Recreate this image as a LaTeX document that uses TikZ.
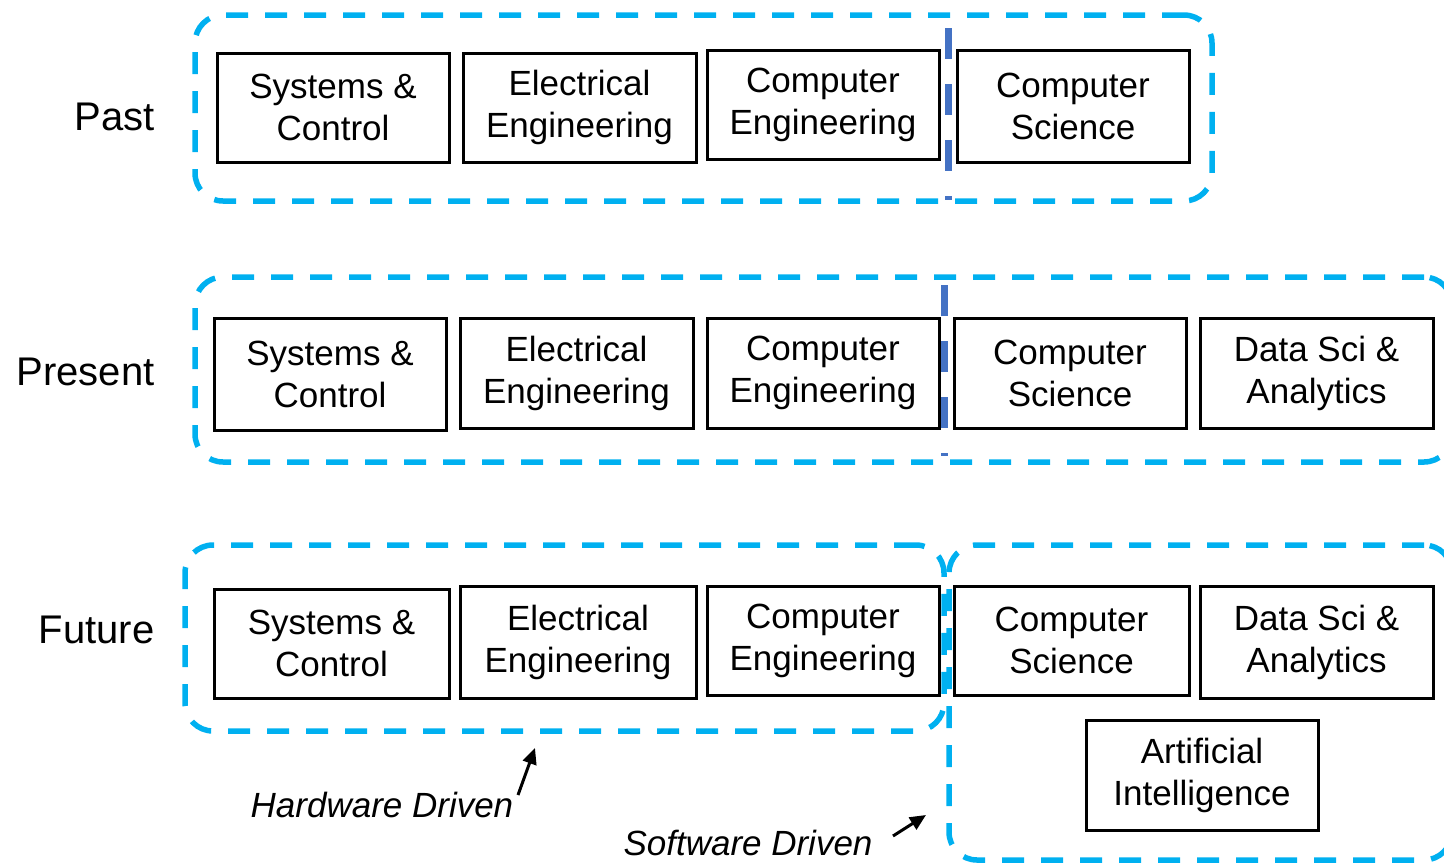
\documentclass[tikz,border=0pt]{standalone}
\usepackage{fontspec}
\setmainfont{Liberation Sans}
\usetikzlibrary{fit,arrows.meta}
\definecolor{grpblue}{HTML}{00B0F0}
\definecolor{sepblue}{HTML}{4472C4}
\tikzset{
  field/.style={draw=black, line width=3pt, inner sep=0pt, align=center,
    font=\fontsize{35}{42}\selectfont},
  size/.style 2 args={minimum width=#1, minimum height=#2},
  era/.style={anchor=east, font=\fontsize{40}{48}\selectfont},
  group/.style={draw=grpblue, line width=5.5pt, dash pattern=on 22pt off 17pt,
    rounded corners=28pt, inner sep=0pt},
  divider/.style={draw=sepblue, line width=7pt, dash pattern=on 31pt off 25pt},
  note/.style={font=\fontsize{35}{42}\selectfont\itshape},
  pointer/.style={draw=black, line width=3pt, -{Triangle[length=16pt,width=14pt]}},
}
\begin{document}
\begin{tikzpicture}[x=1pt,y=-1pt]
\useasboundingbox (0,0) rectangle (1444,863);
\clip (0,0) rectangle (1444,863);

% ---- Past ----
\node[era] (past) at (158,117) {Past};
\node[group, fit={(195,15) (1212,201)}] (pastgrp) {};
\node[field, size={232}{109}] (pastsc) at (333,107.5) {Systems \&\\Control};
\node[field, size={233}{109}] (pastee) at (579.5,107.5) {Electrical\\Engineering};
\node[field, size={232}{109}] (pastce) at (823,104.5) {Computer\\Engineering};
\node[field, size={232}{112}] (pastcs) at (1073,106) {Computer\\Science};
\draw[divider] (948,28) -- (948,200);

% ---- Present ----
\node[era] (present) at (158,372) {Present};
\node[group, fit={(195,277) (1452,462)}] (presgrp) {};
\node[field, size={232}{112}] (pressc) at (330,374) {Systems \&\\Control};
\node[field, size={233}{110}] (presee) at (576.5,373) {Electrical\\Engineering};
\node[field, size={232}{110}] (presce) at (823,373) {Computer\\Engineering};
\node[field, size={232}{110}] (prescs) at (1070,373) {Computer\\Science};
\node[field, size={233}{110}] (presds) at (1316.5,373) {Data Sci \&\\Analytics};
\draw[divider] (944,285) -- (944,456);

% ---- Future ----
\node[era] (future) at (158,630) {Future};
\node[group, fit={(185,545) (944,731)}] (hwgrp) {};
\node[group, fit={(949,545) (1452,860)}] (swgrp) {};
\node[field, size={235}{109}] (futsc) at (331.5,643.5) {Systems \&\\Control};
\node[field, size={236}{112}] (futee) at (578,642) {Electrical\\Engineering};
\node[field, size={232}{109}] (futce) at (823,640.5) {Computer\\Engineering};
\node[field, size={235}{109}] (futcs) at (1071.5,640.5) {Computer\\Science};
\node[field, size={233}{112}] (futds) at (1316.5,642) {Data Sci \&\\Analytics};
\node[field, size={232}{110}] (futai) at (1202,775) {Artificial\\Intelligence};

% ---- annotations ----
\node[note] (hw) at (382,805) {Hardware Driven};
\node[note] (sw) at (748,843) {Software Driven};
\coordinate (hwtail) at (518,795);
\coordinate (hwtip) at (535,748);
\coordinate (swtail) at (893,836);
\coordinate (swtip) at (926,815);
\draw[pointer] (hwtail) -- (hwtip);
\draw[pointer] (swtail) -- (swtip);
\end{tikzpicture}
\end{document}
